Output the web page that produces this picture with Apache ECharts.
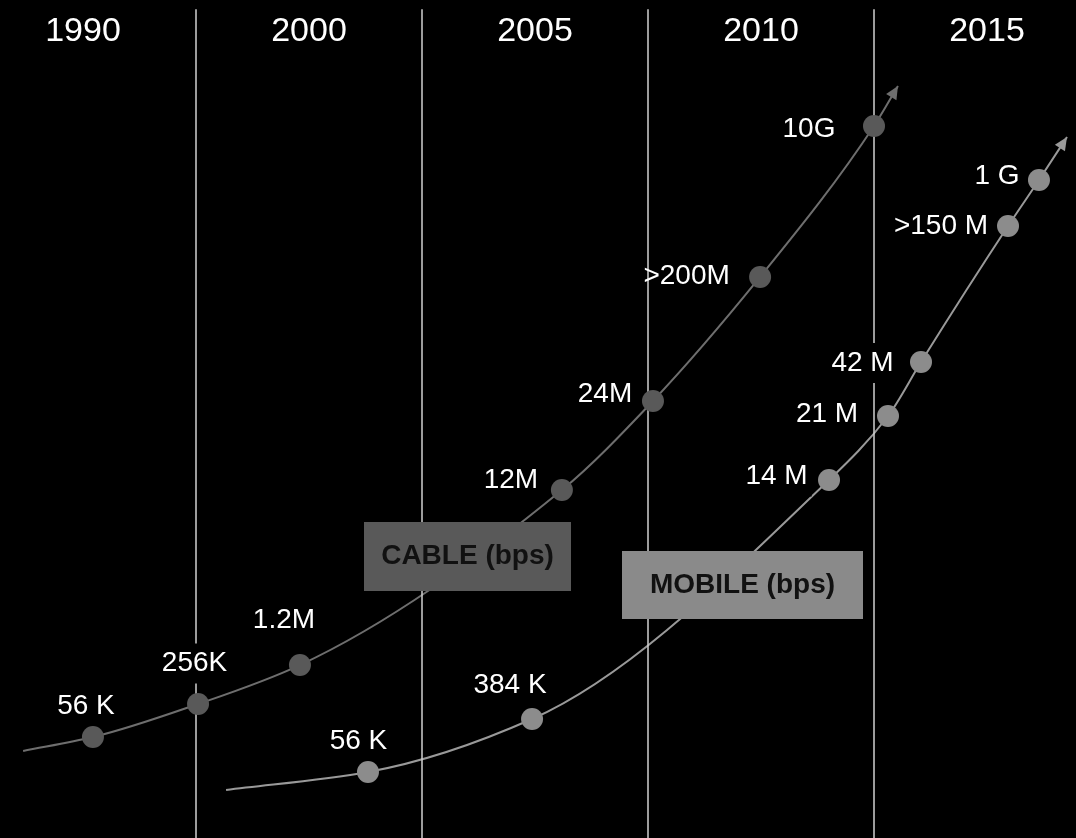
<!DOCTYPE html>
<html><head><meta charset="utf-8">
<script src="https://cdn.jsdelivr.net/npm/echarts@6/dist/echarts.min.js"></script>
<style>html,body{margin:0;padding:0;background:#000;}#c{width:1076px;height:838px;}</style>
</head><body><div id="c"></div>
<script>
// Column headers (eras) and their centre positions along the timeline (column units)
const eraLabels = ['1990', '2000', '2005', '2010', '2015'];
const eraCenters = [0.5, 1.5, 2.5, 3.5, 4.5];
const eraBoundaries = [1, 2, 3, 4];

// Cable speeds (labelled milestones): position along timeline (x, column units), relative height (y, 0-100)
const cableLabels = ['56 K', '256K', '1.2M', '12M', '24M', '>200M', '10G'];
const cableX = [0.544, 1.009, 1.460, 2.619, 3.022, 3.496, 4.000];
const cableY = [12.05, 15.99, 20.64, 41.53, 52.15, 66.95, 84.96];
// Cable curve start and arrow tip
const cableStart = [0.235, 10.38];
const cableEnd = [4.106, 89.74];

// Mobile speeds
const mobileLabels = ['56 K', '384 K', '14 M', '21 M', '42 M', '>150 M', '1 G'];
const mobileX = [1.761, 2.487, 3.801, 4.062, 4.208, 4.593, 4.730];
const mobileY = [7.88, 14.20, 42.72, 50.36, 56.80, 73.03, 78.52];
const mobileStart = [1.133, 5.73];
const mobileEnd = [4.854, 83.65];

const X_MIN = 0.5 - 83 / 226, X_MAX = 0.5 + (1076 - 83) / 226;
const FONT = '"Liberation Sans", Arial, sans-serif';

// label offsets in px relative to the dot centre (style only)
const cableLabelOffset = [[-7, -31], [-3.5, -40.5], [-16, -44.5], [-51, -10], [-48, -6.5], [-73.5, -1], [-65, 3]];
const mobileLabelOffset = [[-9.5, -31], [-22, -33.5], [-52.5, -3.5], [-61, -1.5], [-58.5, 1], [-67, 0], [-42, -4]];
// labels drawn without an opaque backing box
const noBacking = ['>200M'];

// Monotone (PCHIP) cubic through pixel points, drawn as bezier segments
function curveElements(pts, color) {
  const n = pts.length;
  const h = [], d = [];
  for (let i = 0; i < n - 1; i++) {
    h.push(pts[i + 1][0] - pts[i][0]);
    d.push((pts[i + 1][1] - pts[i][1]) / h[i]);
  }
  const m = new Array(n);
  m[0] = d[0];
  m[n - 1] = d[n - 2];
  for (let k = 1; k < n - 1; k++) {
    if (d[k - 1] * d[k] <= 0) { m[k] = 0; continue; }
    const w1 = 2 * h[k] + h[k - 1], w2 = h[k] + 2 * h[k - 1];
    m[k] = (w1 + w2) / (w1 / d[k - 1] + w2 / d[k]);
  }
  const els = [];
  for (let i = 0; i < n - 1; i++) {
    const [x0, y0] = pts[i], [x1, y1] = pts[i + 1];
    const t = h[i] / 3;
    els.push({
      type: 'bezierCurve',
      shape: {x1: x0, y1: y0, x2: x1, y2: y1, cpx1: x0 + t, cpy1: y0 + m[i] * t, cpx2: x1 - t, cpy2: y1 - m[i + 1] * t},
      style: {stroke: color, lineWidth: 2, fill: null}
    });
  }
  // arrow head at the tip, oriented along the final tangent
  const tip = pts[n - 1];
  let dx = 1, dy = m[n - 1];
  const len = Math.sqrt(dx * dx + dy * dy); dx /= len; dy /= len;
  const L = 13, W = 6;
  const bx = tip[0] - dx * L, by = tip[1] - dy * L;
  els.push({
    type: 'polygon',
    shape: {points: [[tip[0], tip[1]], [bx - dy * W, by + dx * W], [bx + dy * W, by - dx * W]]},
    style: {fill: color, stroke: null}
  });
  return els;
}

function curveSeries(name, start, xs, ys, end, color) {
  const pts = [start].concat(xs.map((x, i) => [x, ys[i]])).concat([end]);
  return {
    type: 'custom', name: name, coordinateSystem: 'cartesian2d', clip: false, silent: true, z: 3,
    data: pts,
    renderItem: (params, api) => {
      if (params.dataIndex !== 0) return null;
      const px = pts.map(p => api.coord(p));
      return {type: 'group', children: curveElements(px, color)};
    }
  };
}

function dotSeries(name, labels, xs, ys, offsets, color) {
  return {
    type: 'scatter', name: name, symbol: 'circle', symbolSize: 22, z: 5,
    itemStyle: {color: color, opacity: 1},
    data: xs.map((x, i) => ({
      value: [x, ys[i]], name: labels[i],
      label: noBacking.includes(labels[i])
        ? {offset: offsets[i], backgroundColor: 'transparent'}
        : {offset: offsets[i]}
    })),
    label: {
      show: true, position: ['50%', '50%'], align: 'center', verticalAlign: 'middle',
      color: '#ffffff', fontSize: 28, fontFamily: FONT,
      backgroundColor: '#000000', padding: [6, 4, 6, 4],
      formatter: p => p.name
    }
  };
}

const chart = echarts.init(document.getElementById('c'), null, {renderer: 'canvas'});
chart.setOption({
  backgroundColor: '#000000',
  animation: false,
  grid: {left: 0, right: 0, top: 0, bottom: 0},
  xAxis: [{
    type: 'value', min: X_MIN, max: X_MAX, position: 'top',
    axisLine: {show: false}, splitLine: {show: false},
    axisTick: {show: false},
    axisLabel: {
      show: true, inside: true, customValues: eraCenters,
      formatter: v => { const i = eraCenters.findIndex(c => Math.abs(c - v) < 1e-6); return i >= 0 ? eraLabels[i] : ''; },
      color: '#ffffff', fontSize: 34, fontFamily: FONT, margin: 15,
      verticalAlign: 'top'
    }
  }],
  yAxis: {type: 'value', min: 0, max: 100, show: false, splitLine: {show: false}},
  series: [
    {
      type: 'line', name: 'dividers', data: [], silent: true, z: 1,
      markLine: {
        silent: true, symbol: 'none', label: {show: false},
        lineStyle: {color: '#d0d0d0', width: 1.5, type: 'solid'},
        data: eraBoundaries.map(b => [{coord: [b, 0]}, {coord: [b, 98.9]}])
      }
    },
    curveSeries('CABLE line', cableStart, cableX, cableY, cableEnd, '#6e6e6e'),
    curveSeries('MOBILE line', mobileStart, mobileX, mobileY, mobileEnd, '#999999'),
    dotSeries('CABLE', cableLabels, cableX, cableY, cableLabelOffset, '#595959'),
    dotSeries('MOBILE', mobileLabels, mobileX, mobileY, mobileLabelOffset, '#8c8c8c')
  ],
  graphic: [
    {type: 'rect', left: 364, top: 522, z: 100, shape: {width: 207, height: 69}, style: {fill: '#595959'}},
    {type: 'text', z: 101,
     style: {text: 'CABLE (bps)', fill: '#111111', font: 'bold 28px ' + FONT, x: 467.5, y: 556.5, align: 'center', verticalAlign: 'middle'}},
    {type: 'rect', left: 622, top: 551, z: 100, shape: {width: 241, height: 68}, style: {fill: '#8a8a8a'}},
    {type: 'text', z: 101,
     style: {text: 'MOBILE (bps)', fill: '#111111', font: 'bold 28px ' + FONT, x: 742.5, y: 585, align: 'center', verticalAlign: 'middle'}}
  ]
});
</script></body></html>
